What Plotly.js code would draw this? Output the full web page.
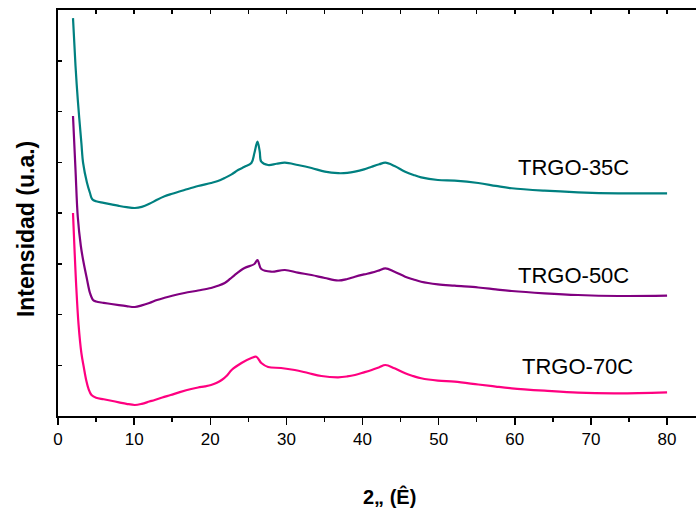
<!DOCTYPE html>
<html>
<head>
<meta charset="utf-8">
<script src="https://cdn.plot.ly/plotly-3.0.1.min.js"></script>
<style>html,body{margin:0;padding:0;background:#fff;}#chart{width:696px;height:512px;}</style>
</head>
<body>
<div id="chart"></div>
<script>
// 2-theta (degrees) and intensity (a.u.)
const x35 = [1.97, 2.3, 2.6, 3.07, 3.3, 3.8, 4.2, 4.5, 5.0, 6.0, 7.0, 8.0, 9.0, 10.1, 11.0, 12.0, 13.0, 14.0, 15.0, 16.6, 18.4, 20.1, 21.0, 21.9, 22.8, 23.65, 24.5, 25.4, 25.8, 26.2, 26.5, 26.7, 27.6, 28.7, 29.8, 31.5, 33.3, 35.05, 36.8, 38.0, 39.0, 40.2, 41.2, 42.2, 43.0, 44.2, 45.6, 46.7, 47.7, 49.9, 52.1, 55.2, 57.5, 59.6, 63.9, 68.3, 73.6, 80.0];
const y35 = [7840, 6900, 6230, 5380, 4985, 4600, 4394, 4270, 4230, 4200, 4170, 4140, 4115, 4099, 4120, 4180, 4260, 4330, 4380, 4453, 4532, 4591, 4630, 4690, 4760, 4847, 4910, 4985, 5182, 5405, 5208, 5011, 4946, 4970, 4991, 4946, 4887, 4814, 4784, 4790, 4814, 4860, 4912, 4960, 4991, 4926, 4814, 4750, 4703, 4650, 4636, 4591, 4535, 4487, 4439, 4408, 4388, 4388];

const x50 = [1.97, 2.3, 2.6, 3.0, 3.3, 3.8, 4.2, 4.6, 5.0, 6.0, 7.0, 8.0, 9.0, 10.1, 11.0, 12.0, 13.0, 14.0, 15.0, 16.6, 18.4, 20.1, 21.0, 21.9, 22.6, 23.2, 24.5, 25.8, 26.2, 26.7, 28.0, 29.8, 31.5, 33.3, 35.05, 36.8, 38.0, 39.0, 40.2, 41.2, 42.2, 43.0, 44.2, 45.6, 46.7, 47.7, 49.9, 52.1, 55.2, 57.5, 59.6, 63.9, 68.3, 73.6, 80.0];
const y50 = [5911, 4850, 3921, 3350, 3074, 2700, 2424, 2286, 2255, 2230, 2207, 2185, 2165, 2148, 2180, 2227, 2285, 2330, 2370, 2424, 2473, 2522, 2565, 2621, 2700, 2778, 2916, 2995, 3074, 2897, 2843, 2877, 2824, 2778, 2719, 2670, 2700, 2745, 2790, 2824, 2870, 2910, 2843, 2745, 2690, 2646, 2595, 2567, 2532, 2495, 2463, 2418, 2384, 2365, 2370];

const x70 = [1.97, 2.4, 2.7, 3.07, 3.4, 3.7, 4.0, 4.4, 5.0, 6.0, 7.0, 8.0, 9.0, 10.1, 11.0, 12.0, 12.7, 13.7, 14.8, 16.0, 17.5, 18.4, 19.3, 20.1, 20.8, 21.5, 22.2, 22.8, 24.1, 25.4, 26.05, 26.7, 27.6, 29.3, 31.1, 32.85, 34.6, 36.8, 38.0, 39.0, 40.2, 41.2, 42.2, 43.0, 44.2, 45.6, 46.7, 47.7, 49.9, 52.1, 55.2, 57.5, 59.6, 63.9, 68.3, 73.6, 80.0];
const y70 = [4000, 2542, 1800, 1241, 950, 709, 540, 414, 360, 330, 300, 270, 240, 217, 240, 285, 315, 365, 414, 470, 532, 562, 585, 611, 650, 709, 800, 906, 1044, 1143, 1168, 1044, 966, 946, 906, 847, 788, 763, 780, 808, 860, 906, 960, 1005, 940, 841, 785, 743, 696, 676, 621, 580, 546, 499, 459, 447, 467];

const seriesNames = ["TRGO-35C", "TRGO-50C", "TRGO-70C"];
const seriesColors = ["#008080", "#800080", "#FF0080"];
const labelX = [67.7, 67.7, 68.3];
const labelY = [4887, 2778, 966];

const xData = [x35, x50, x70];
const yData = [y35, y50, y70];

const XMAX = 83.8;

const traces = seriesNames.map((n, i) => ({
  type: 'scatter', mode: 'lines', name: n,
  x: xData[i], y: yData[i],
  line: {color: seriesColors[i], width: 2.2, shape: 'spline', smoothing: 1},
  showlegend: false, hoverinfo: 'skip'
}));
// empty trace to attach top frame axis
traces.push({type: 'scatter', mode: 'lines', x: [], y: [], xaxis: 'x2', yaxis: 'y', showlegend: false, hoverinfo: 'skip'});

const annotations = seriesNames.map((n, i) => ({
  text: n, x: labelX[i], y: labelY[i], xref: 'x', yref: 'y',
  showarrow: false, xanchor: 'center', yanchor: 'middle',
  font: {family: 'Liberation Sans, Arial, sans-serif', size: 22, color: '#000'}
}));
annotations.push({
  text: '<b>Intensidad (u.a.)</b>', textangle: -90,
  xref: 'paper', yref: 'paper', x: -0.05, y: 0.4606,
  xanchor: 'center', yanchor: 'middle', showarrow: false,
  font: {family: 'Liberation Sans, Arial, sans-serif', size: 23, color: '#000'}
});
annotations.push({
  text: '<b>2„ (Ê)</b>',
  xref: 'paper', yref: 'paper', x: 0.52, y: -0.1995,
  xanchor: 'center', yanchor: 'middle', showarrow: false,
  font: {family: 'Liberation Sans, Arial, sans-serif', size: 20, color: '#000'}
});

const layout = {
  width: 696, height: 512,
  margin: {l: 58, r: 0, t: 10, b: 96},
  paper_bgcolor: '#fff', plot_bgcolor: '#fff',
  font: {family: 'Liberation Sans, Arial, sans-serif', color: '#000'},
  xaxis: {
    range: [0, XMAX], tick0: 0, dtick: 10,
    ticks: 'outside', ticklen: 7, tickwidth: 1.5, tickcolor: '#000',
    minor: {dtick: 5, ticks: 'outside', ticklen: 4, tickwidth: 1.5, tickcolor: '#000'},
    showline: true, linecolor: '#000', linewidth: 2,
    showgrid: false, zeroline: false,
    tickfont: {size: 17, color: '#000'}
  },
  xaxis2: {
    overlaying: 'x', side: 'top', anchor: 'y',
    range: [0, XMAX], tick0: 0, dtick: 5,
    ticks: 'inside', ticklen: 4, tickwidth: 1.5, tickcolor: '#000',
    showticklabels: false, showline: true, linecolor: '#000', linewidth: 2,
    showgrid: false, zeroline: false
  },
  yaxis: {
    range: [0, 8000], tick0: 0, dtick: 1000,
    ticks: 'inside', ticklen: 4, tickwidth: 1.5, tickcolor: '#000',
    showticklabels: false, showline: true, linecolor: '#000', linewidth: 2,
    showgrid: false, zeroline: false
  },
  annotations: annotations
};

Plotly.newPlot('chart', traces, layout, {staticPlot: true, displayModeBar: false});
</script>
</body>
</html>
